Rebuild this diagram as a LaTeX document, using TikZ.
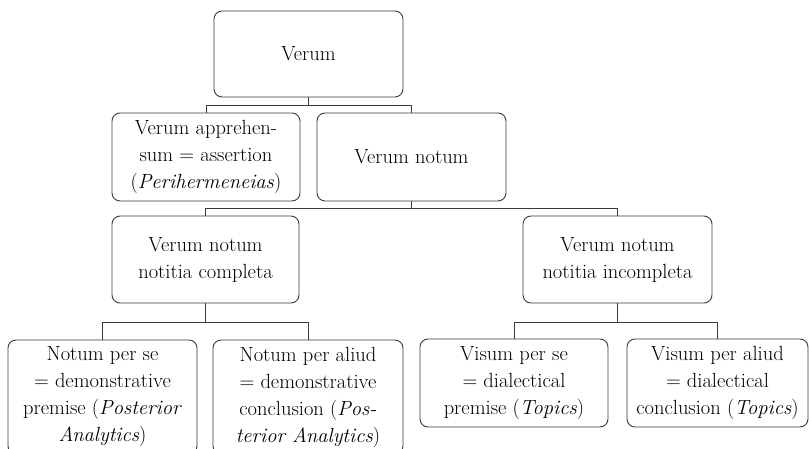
\documentclass[tikz,border=0pt]{standalone}
\usepackage{xcolor}
\definecolor{linec}{HTML}{3A3A3A}
\begin{document}
\begin{tikzpicture}[x=1pt,y=-1pt,
  box/.style={draw=linec, line width=0.9pt, rounded corners=8pt, align=center, inner sep=2pt,
    font=\fontsize{20.5}{27}\selectfont, text=black},
  conn/.style={draw=linec, line width=0.9pt}]
\useasboundingbox (0,0) rectangle (809,449);
\clip (0,0) rectangle (809,449);
\node[box, minimum width=189pt, minimum height=86pt] (verum) at (308.5,54) {Verum};
\node[box, minimum width=188pt, minimum height=88pt] (appr) at (206,157)
  {Verum apprehen-\\sum = assertion\\(\textit{Perihermeneias})};
\node[box, minimum width=189pt, minimum height=88pt] (notum) at (411.5,157) {Verum notum};
\node[box, minimum width=187pt, minimum height=87pt] (compl) at (205.5,259.5)
  {Verum notum\\notitia completa};
\node[box, minimum width=189pt, minimum height=87pt] (incompl) at (617.5,259.5)
  {Verum notum\\notitia incompleta};
\node[box, minimum width=189pt, minimum height=114pt] (perse) at (102.5,397)
  {Notum per se\\= demonstrative\\premise (\textit{Posterior}\\\textit{Analytics})};
\node[box, minimum width=190pt, minimum height=114pt] (peraliud) at (308,397)
  {Notum per aliud\\= demonstrative\\conclusion (\textit{Pos-}\\\textit{terior Analytics})};
\node[box, minimum width=188pt, minimum height=88pt] (visumse) at (514,383)
  {Visum per se\\= dialectical\\premise (\textit{Topics})};
\node[box, minimum width=181pt, minimum height=88pt] (visumaliud) at (717.5,383)
  {Visum per aliud\\= dialectical\\conclusion (\textit{Topics})};
\draw[conn] (verum.south) -- ++(0,8) -| (appr.north);
\draw[conn] (verum.south) -- ++(0,8) -| (notum.north);
\draw[conn] (notum.south) -- ++(0,7) -| (compl.north);
\draw[conn] (notum.south) -- ++(0,7) -| (incompl.north);
\draw[conn] (compl.south) -- ++(0,19) -| (perse.north);
\draw[conn] (compl.south) -- ++(0,19) -| (peraliud.north);
\draw[conn] (incompl.south) -- ++(0,19) -| (visumse.north);
\draw[conn] (incompl.south) -- ++(0,19) -| (visumaliud.north);
\end{tikzpicture}
\end{document}
